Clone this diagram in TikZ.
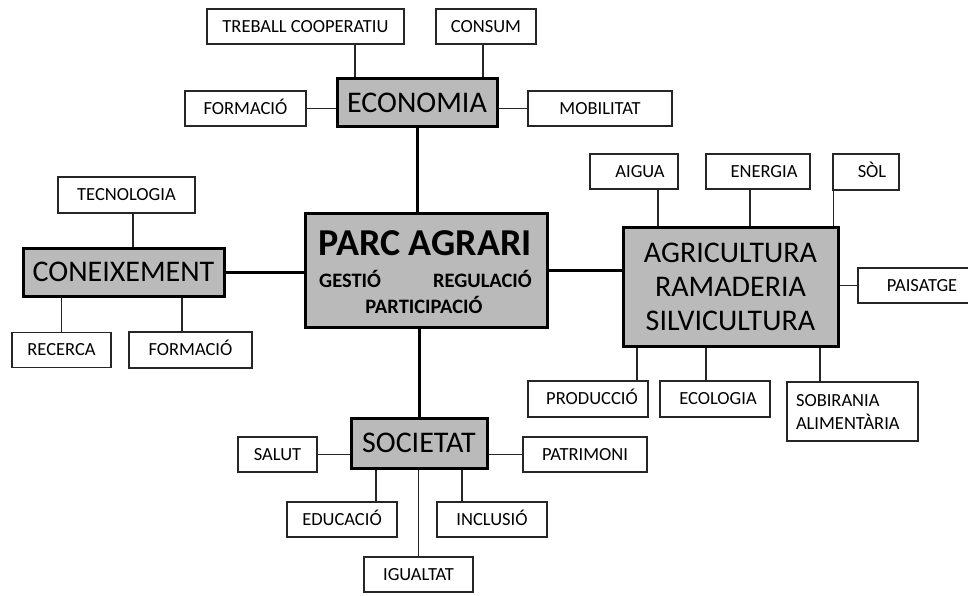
\documentclass[tikz,border=0pt]{standalone}
\usepackage{fontspec}
\setmainfont{Carlito}
\begin{document}
\begin{tikzpicture}[x=1pt,y=-1pt,
  subbox/.style={draw=black!85, line width=1.1pt, fill=white, inner sep=0pt,
    font=\fontsize{18.5}{22}\selectfont, text height=11.9pt, text depth=0pt},
  mainbox/.style={draw=black, line width=3pt, fill=black!27, inner sep=0pt,
    font=\fontsize{30}{34}\selectfont, text height=19.3pt, text depth=0pt},
  thinline/.style={draw=black!85, line width=1.1pt},
  thickline/.style={draw=black, line width=3pt},
  boldlbl/.style={font=\fontsize{20.5}{24}\selectfont\bfseries, inner sep=0pt, anchor=base}
]
\useasboundingbox (0,0) rectangle (968,596);

% ---------- ECONOMIA ----------
\node[mainbox, minimum width=160, minimum height=48] (economia) at (417,103) {ECONOMIA};
\node[subbox, minimum width=197, minimum height=35] (treball) at (305.5,26.5) {TREBALL COOPERATIU};
\node[subbox, minimum width=100, minimum height=35] (consum) at (486,26.5) {CONSUM};
\node[subbox, minimum width=121, minimum height=35] (formtop) at (245.5,108.5) {FORMACIÓ};
\node[subbox, minimum width=144, minimum height=35] (mobilitat) at (600,108.5) {MOBILITAT};

% ---------- PARC AGRARI ----------
\node[mainbox, minimum width=242, minimum height=114] (parc) at (426,270) {};
\node[font=\fontsize{38}{40}\selectfont\bfseries, inner sep=0pt, anchor=base] (parctitle) at (425,255) {PARC AGRARI};
\node[boldlbl, anchor=base west] (gestio) at (319,287) {GESTIÓ};
\node[boldlbl, anchor=base east] (regulacio) at (532,287) {REGULACIÓ};
\node[boldlbl] (participacio) at (424,313) {PARTICIPACIÓ};

% ---------- CONEIXEMENT ----------
\node[mainbox, minimum width=201, minimum height=48] (coneix) at (123.5,272) {CONEIXEMENT};
\node[subbox, minimum width=137, minimum height=36] (tecno) at (126.5,195) {TECNOLOGIA};
\node[subbox, minimum width=99, minimum height=35] (recerca) at (61.5,350) {RECERCA};
\node[subbox, minimum width=123, minimum height=36] (formleft) at (190.5,350) {FORMACIÓ};

% ---------- AGRICULTURA ----------
\node[mainbox, minimum width=215, minimum height=119, align=center, text height=, text depth=] (agri) at (730.5,286.5)
  {AGRICULTURA\\RAMADERIA\\SILVICULTURA};
\node[subbox, minimum width=88, minimum height=35] (aigua) at (634,171.5) {\hspace{12pt}AIGUA};
\node[subbox, minimum width=104, minimum height=35] (energia) at (758,171.5) {\hspace{12pt}ENERGIA};
\node[subbox, minimum width=66, minimum height=36] (sol) at (866,172) {\hspace{12pt}SÒL};
\node[subbox, minimum width=128, minimum height=35] (paisatge) at (922,285.5) {PAISATGE};
\node[subbox, minimum width=120, minimum height=36] (produccio) at (588,399) {\hspace{8pt}PRODUCCIÓ};
\node[subbox, minimum width=110, minimum height=36] (ecologia) at (715,399) {\hspace{6pt}ECOLOGIA};
\node[subbox, minimum width=131, minimum height=59, align=left, text width=113pt,
  inner xsep=9pt, text height=, text depth=, font=\fontsize{18.5}{23}\selectfont] (sobirania) at (852.5,411.5)
  {SOBIRANIA\\ALIMENTÀRIA};

% ---------- SOCIETAT ----------
\node[mainbox, minimum width=136, minimum height=50] (societat) at (419,443) {SOCIETAT};
\node[subbox, minimum width=79, minimum height=35] (salut) at (277.5,454.5) {SALUT};
\node[subbox, minimum width=124, minimum height=35] (patrimoni) at (585,454.5) {PATRIMONI};
\node[subbox, minimum width=110, minimum height=35] (educacio) at (342,519.5) {EDUCACIÓ};
\node[subbox, minimum width=110, minimum height=35] (inclusio) at (492,519.5) {INCLUSIÓ};
\node[subbox, minimum width=109, minimum height=35] (igualtat) at (418.5,574.5) {IGUALTAT};

% ---------- main connectors ----------
\draw[thickline] (economia.south) -- (economia.south |- parc.north);
\draw[thickline] (coneix.east) -- (coneix.east -| parc.west);
\draw[thickline] (parc.east) -- (parc.east -| agri.west);
\draw[thickline] (societat.north) -- (societat.north |- parc.south);

% ---------- sub connectors ----------
\draw[thinline] ([xshift=49.5]treball.south) -- ([xshift=49.5]treball.south |- economia.north);
\draw[thinline] ([xshift=-3]consum.south) -- ([xshift=-3]consum.south |- economia.north);
\draw[thinline] (formtop.east) -- (formtop.east -| economia.west);
\draw[thinline] (mobilitat.west) -- (mobilitat.west -| economia.east);

\draw[thinline] ([xshift=6.5]tecno.south) -- ([xshift=6.5]tecno.south |- coneix.north);
\draw[thinline] (recerca.north) -- (recerca.north |- coneix.south);
\draw[thinline] ([xshift=-8.5]formleft.north) -- ([xshift=-8.5]formleft.north |- coneix.south);

\draw[thinline] ([xshift=24]aigua.south) -- ([xshift=24]aigua.south |- agri.north);
\draw[thinline] ([xshift=-8]energia.south) -- ([xshift=-8]energia.south |- agri.north);
\draw[thinline] ([xshift=1]sol.south west) -- ([xshift=1]sol.south west |- agri.north);
\draw[thinline] (paisatge.west) -- (paisatge.west -| agri.east);
\draw[thinline] ([xshift=49]produccio.north) -- ([xshift=49]produccio.north |- agri.south);
\draw[thinline] ([xshift=-9]ecologia.north) -- ([xshift=-9]ecologia.north |- agri.south);
\draw[thinline] ([xshift=-32.5]sobirania.north) -- ([xshift=-32.5]sobirania.north |- agri.south);

\draw[thinline] (salut.east) -- (salut.east -| societat.west);
\draw[thinline] (patrimoni.west) -- (patrimoni.west -| societat.east);
\draw[thinline] ([xshift=34]educacio.north) -- ([xshift=34]educacio.north |- societat.south);
\draw[thinline] (igualtat.north) -- (igualtat.north |- societat.south);
\draw[thinline] ([xshift=-30]inclusio.north) -- ([xshift=-30]inclusio.north |- societat.south);
\end{tikzpicture}
\end{document}
